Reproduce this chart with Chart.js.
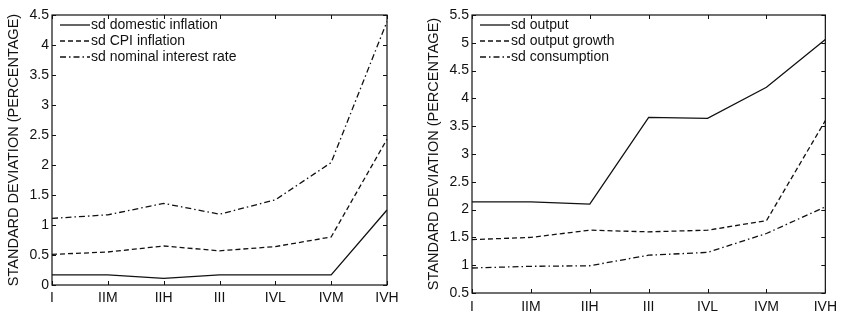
<!DOCTYPE html>
<html><head><meta charset="utf-8">
<script src="https://cdn.jsdelivr.net/npm/chart.js@4.4.1/dist/chart.umd.min.js"></script>
<style>
html,body{margin:0;padding:0;background:#fff;width:843px;height:315px;overflow:hidden}
#w1{position:absolute;left:0;top:0;width:420px;height:315px}
#w2{position:absolute;left:420px;top:0;width:423px;height:315px}
</style></head><body>
<div id="w1"><canvas id="c1"></canvas></div>
<div id="w2"><canvas id="c2"></canvas></div>
<script>
const categories = ["I","IIM","IIH","III","IVL","IVM","IVH"];
// Left panel
const sdDomesticInflation = [0.17,0.17,0.11,0.17,0.17,0.17,1.25];
const sdCpiInflation      = [0.51,0.55,0.65,0.57,0.64,0.80,2.43];
const sdNominalRate       = [1.11,1.17,1.36,1.18,1.42,2.04,4.39];
// Right panel
const sdOutput            = [2.14,2.14,2.10,3.66,3.64,4.20,5.06];
const sdOutputGrowth      = [1.46,1.50,1.63,1.60,1.63,1.80,3.60];
const sdConsumption       = [0.95,0.98,0.99,1.18,1.23,1.57,2.05];
const leftYTicks  = {min:0, max:4.5, step:0.5};
const rightYTicks = {min:0.5, max:5.5, step:0.5};

const FONT = "'Liberation Sans', Arial, sans-serif";
const INK = '#111';
const SOLID = [], DASH = [5,3], DASHDOT = [6,3,1.5,3];

function ds(label, data, dash){
  return {label, data, borderColor:INK, borderWidth:1.3, borderDash:dash,
          pointRadius:0, tension:0, fill:false};
}

const boxPlugin = {
  id:'box',
  afterDraw(chart){
    const ctx = chart.ctx, a = chart.chartArea;
    const x = chart.scales.x, y = chart.scales.y;
    ctx.save();
    ctx.strokeStyle = INK; ctx.lineWidth = 1.2; ctx.setLineDash([]);
    ctx.strokeRect(a.left, a.top, a.right-a.left, a.bottom-a.top);
    ctx.lineWidth = 1;
    const tl = 4;
    y.ticks.forEach(t=>{
      const py = Math.round(y.getPixelForValue(t.value))+0.5;
      ctx.beginPath();
      ctx.moveTo(a.left,py); ctx.lineTo(a.left+tl,py);
      ctx.moveTo(a.right,py); ctx.lineTo(a.right-tl,py);
      ctx.stroke();
    });
    categories.forEach((c,i)=>{
      const px = Math.round(x.getPixelForValue(i))+0.5;
      ctx.beginPath();
      ctx.moveTo(px,a.bottom); ctx.lineTo(px,a.bottom-tl);
      ctx.moveTo(px,a.top); ctx.lineTo(px,a.top+tl);
      ctx.stroke();
    });
    // legend
    const a0 = a.left;
    ctx.font = "14px " + FONT;
    ctx.textBaseline = 'middle';
    ctx.fillStyle = INK;
    chart.data.datasets.forEach((d,i)=>{
      const ry = a.top + 10 + i*16;
      ctx.beginPath();
      ctx.setLineDash(d.borderDash);
      ctx.lineWidth = 1.3;
      ctx.moveTo(a0+8, ry); ctx.lineTo(a0+38, ry);
      ctx.stroke();
      ctx.setLineDash([]);
      ctx.fillText(d.label, a0+39, ry);
    });
    ctx.restore();
  }
};

function makeChart(id, datasets, yt, pad, xh, xpad){
  return new Chart(document.getElementById(id), {
    type:'line',
    data:{labels:categories, datasets},
    plugins:[boxPlugin],
    options:{
      responsive:true, maintainAspectRatio:false, animation:false,
      layout:{padding:pad},
      plugins:{legend:{display:false}, tooltip:{enabled:false}},
      scales:{
        x:{type:'category', offset:false,
           grid:{display:false, drawTicks:false}, border:{display:false},
           ticks:{color:INK, font:{family:FONT, size:14}, padding:xpad, maxRotation:0, autoSkip:false},
           afterFit(s){ s.height = xh; }},
        y:{min:yt.min, max:yt.max,
           grid:{display:false, drawTicks:false}, border:{display:false},
           ticks:{stepSize:yt.step, color:INK, font:{family:FONT, size:14}, padding:3,
                  callback:v=>String(Math.round(v*10)/10)},
           title:{display:true, text:'STANDARD DEVIATION (PERCENTAGE)', color:INK,
                  font:{family:FONT, size:14.5}, padding:{top:5,bottom:0}},
           afterFit(s){ s.width = 52; }}
      }
    }
  });
}

makeChart('c1', [
  ds('sd domestic inflation', sdDomesticInflation, SOLID),
  ds('sd CPI inflation', sdCpiInflation, DASH),
  ds('sd nominal interest rate', sdNominalRate, DASHDOT)
], leftYTicks, {top:15, right:33, bottom:0, left:0}, 30, 5);

makeChart('c2', [
  ds('sd output', sdOutput, SOLID),
  ds('sd output growth', sdOutputGrowth, DASH),
  ds('sd consumption', sdConsumption, DASHDOT)
], rightYTicks, {top:15, right:15, bottom:0, left:0}, 22, 6);
</script>
</body></html>
